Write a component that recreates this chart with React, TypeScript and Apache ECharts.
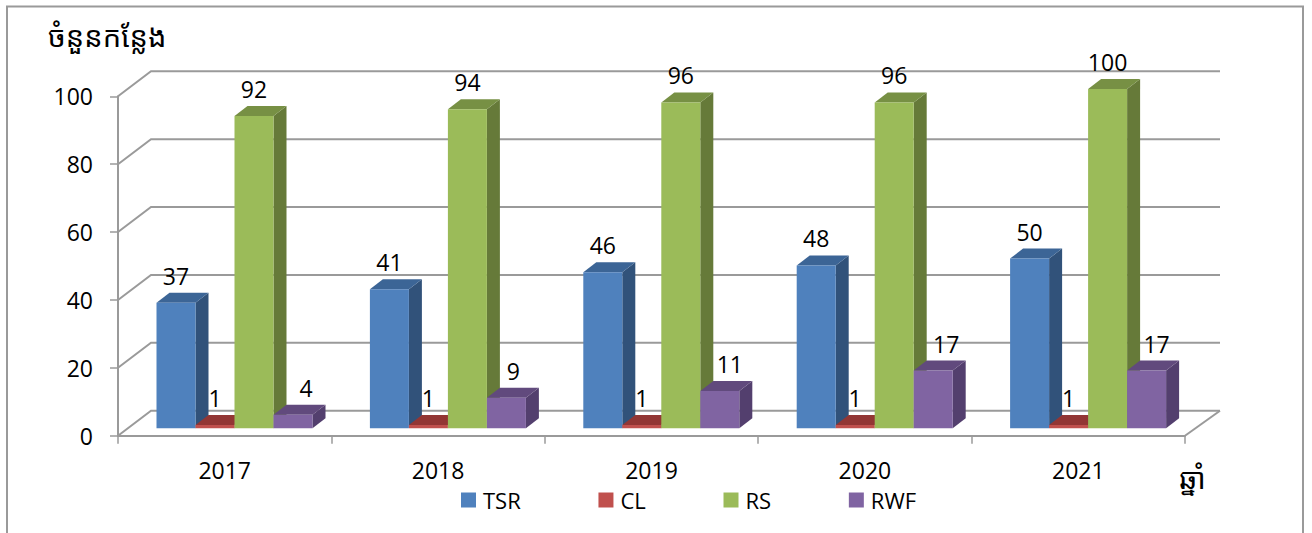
import React, { useEffect, useRef } from "react";
import * as echarts from "echarts";

const categories = ["2017", "2018", "2019", "2020", "2021"];
const seriesNames = ["TSR", "CL", "RS", "RWF"];
const tsr = [37, 41, 46, 48, 50];
const cl = [1, 1, 1, 1, 1];
const rs = [92, 94, 96, 96, 100];
const rwf = [4, 9, 11, 17, 17];
const yTicks = [0, 20, 40, 60, 80, 100];
const yTitle = "ចំនួនកន្លែង";
const xTitle = "ឆ្នាំ";

const FONT = "'Open Sans', 'Noto Sans', sans-serif";
const KHMER_FONT = "'Khmer OS', 'Noto Sans Khmer', 'Noto Sans', 'DejaVu Sans', sans-serif";
const GRAY = "#9a9a9a";
const WALL_DX = 33;
const WALL_DY = -25;
const BAR_DX = 9.8;
const BAR_DY = -7.4;
const DEPTH_X = 13;
const DEPTH_Y = -10;
const BAR_RATIO = 39 / 213.4;
const LABEL_RISE = 27;
const RWF_LABEL_NUDGE = [13, 7, 10, 13, 10];

const palette = [
  { front: "#4f81bd", top: "#3c6596", side: "#31527a" },
  { front: "#c0504d", top: "#923634", side: "#7a302e" },
  { front: "#9bbb59", top: "#779044", side: "#667a39" },
  { front: "#8064a2", top: "#614a7d", side: "#533f6e" },
];

export default function App() {
  const ref = useRef<HTMLDivElement>(null);
  useEffect(() => {
    const chart = echarts.init(ref.current!, undefined, { renderer: "svg" });

    const wall = {
      type: "custom",
      coordinateSystem: "cartesian2d",
      silent: true,
      clip: false,
      z: 1,
      data: yTicks.map((v) => [0, v]),
      renderItem: (params: any, api: any) => {
        const cs = params.coordSys;
        const y = api.coord([0, api.value(1)])[1];
        const x0 = cs.x;
        const x1 = cs.x + cs.width;
        const lineStyle = { stroke: GRAY, lineWidth: 2, fill: "none" };
        const children: any[] = [
          {
            type: "polyline",
            shape: { points: [[x0, y], [x0 + WALL_DX, y + WALL_DY], [x1 + WALL_DX + 2, y + WALL_DY]] },
            style: lineStyle,
          },
        ];
        if (api.value(1) === 0) {
          children.push({
            type: "line",
            shape: { x1, y1: y, x2: x1 + WALL_DX + 2, y2: y + WALL_DY },
            style: lineStyle,
          });
        }
        return { type: "group", children };
      },
    };

    const bars = [tsr, cl, rs, rwf].map((values, k) => ({
      type: "custom",
      name: seriesNames[k],
      coordinateSystem: "cartesian2d",
      silent: true,
      clip: false,
      z: 2,
      itemStyle: { color: palette[k].front },
      encode: { x: 0, y: 1 },
      data: values.map((v, i) => [i, v]),
      renderItem: (params: any, api: any) => {
        const i = api.value(0);
        const v = api.value(1);
        const band = api.size([1, 0])[0];
        const w = band * BAR_RATIO;
        const top = api.coord([i, v]);
        const base = api.coord([i, 0]);
        const l = top[0] + BAR_DX + (k - 2) * w;
        const r = l + w;
        const yt = top[1] + BAR_DY;
        const yb = base[1] + BAR_DY;
        const c = palette[k];
        const nudge = k === 3 ? RWF_LABEL_NUDGE[i] : 0;
        return {
          type: "group",
          children: [
            {
              type: "polygon",
              shape: { points: [[r, yt], [r + DEPTH_X, yt + DEPTH_Y], [r + DEPTH_X, yb + DEPTH_Y], [r, yb]] },
              style: { fill: c.side },
            },
            {
              type: "polygon",
              shape: { points: [[l, yt], [l + DEPTH_X, yt + DEPTH_Y], [r + DEPTH_X, yt + DEPTH_Y], [r, yt]] },
              style: { fill: c.top },
            },
            { type: "rect", shape: { x: l, y: yt, width: w, height: yb - yt }, style: { fill: c.front } },
            {
              type: "text",
              style: {
                x: l + w / 2 + nudge,
                y: yt - LABEL_RISE,
                text: String(v),
                fill: "#000",
                font: `23px ${FONT}`,
                align: "center",
                verticalAlign: "middle",
              },
            },
          ],
        };
      },
    }));

    chart.setOption({
      animation: false,
      backgroundColor: "#fff",
      grid: { left: 118, top: 96.3, width: 1067, height: 339.4, containLabel: false },
      xAxis: {
        type: "category",
        data: categories,
        axisLine: { lineStyle: { color: GRAY, width: 2 } },
        axisTick: { show: true, length: 8, lineStyle: { color: GRAY, width: 1.5 } },
        axisLabel: { color: "#000", fontFamily: FONT, fontSize: 23, margin: 23 },
        splitLine: { show: false },
      },
      yAxis: {
        type: "value",
        min: 0,
        max: 100,
        interval: 20,
        axisLine: { show: true, lineStyle: { color: GRAY, width: 2 } },
        axisTick: { show: true, length: 8, lineStyle: { color: GRAY, width: 1.5 } },
        axisLabel: { color: "#000", fontFamily: FONT, fontSize: 23, margin: 25, padding: [4, 0, 0, 0] },
        splitLine: { show: false },
      },
      legend: {
        show: true,
        left: 461,
        top: 489,
        padding: 0,
        icon: "rect",
        itemWidth: 15,
        itemHeight: 15,
        itemGap: 77.7,
        selectedMode: false,
        textStyle: { color: "#000", fontFamily: FONT, fontSize: 22, padding: [0, 0, 0, 2] },
        data: seriesNames.map((name, k) => ({ name, itemStyle: { color: palette[k].front } })),
      },
      graphic: [
        {
          type: "polyline",
          silent: true,
          shape: { points: [[7, 540], [7, 6.5], [1303, 6.5], [1303, 540]] },
          style: { stroke: GRAY, lineWidth: 2, fill: "none" },
        },
        {
          type: "text",
          silent: true,
          x: 48,
          y: 35,
          style: { text: yTitle, fill: "#000", font: `29px ${KHMER_FONT}`, verticalAlign: "middle" },
        },
        {
          type: "text",
          silent: true,
          x: 1179,
          y: 477,
          style: { text: xTitle, fill: "#000", font: `29px ${KHMER_FONT}`, verticalAlign: "middle" },
        },
      ],
      series: [wall, ...bars],
    });
    return () => chart.dispose();
  }, []);
  return (
    <div style={{ position: "fixed", left: 0, top: 0, width: 1312, height: 533, background: "#fff" }}>
      <div ref={ref} style={{ width: 1312, height: 533 }} />
    </div>
  );
}
